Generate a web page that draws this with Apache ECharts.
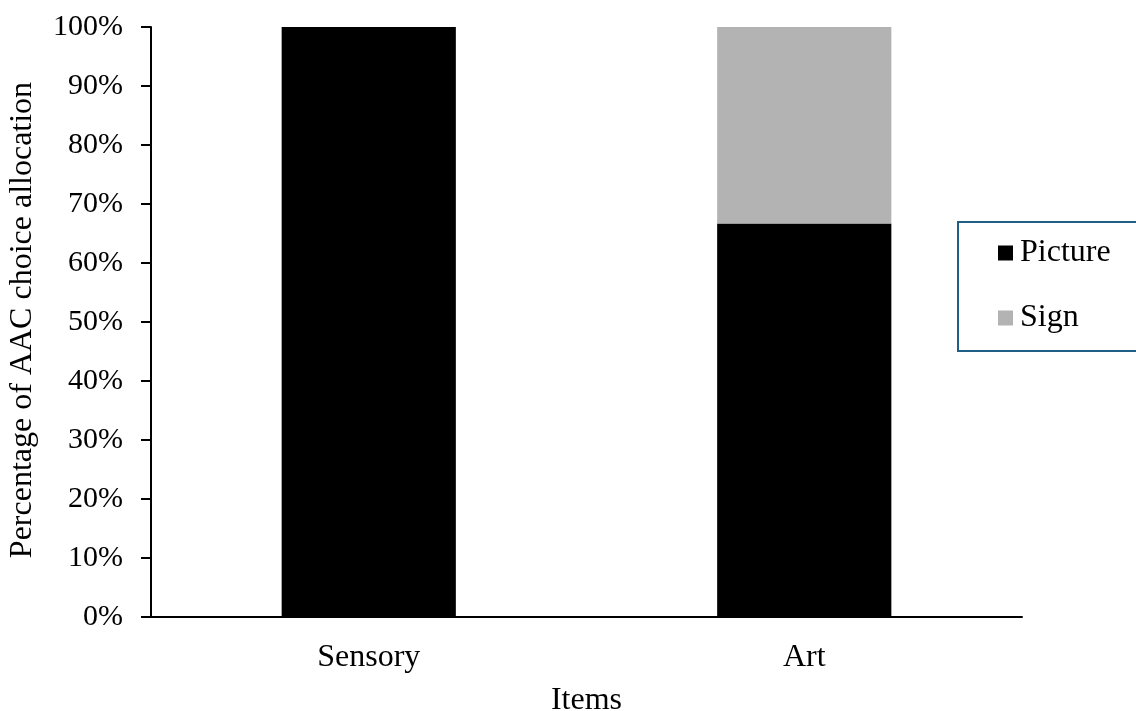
<!DOCTYPE html>
<html>
<head>
<meta charset="utf-8">
<script src="https://cdn.jsdelivr.net/npm/echarts@6/dist/echarts.min.js"></script>
<style>
  html, body { margin: 0; padding: 0; background: #ffffff; }
  #chart { width: 1136px; height: 711px; }
</style>
</head>
<body>
<div id="chart"></div>
<script>
// Items on the horizontal axis
const categories = ['Sensory', 'Art'];
// Share of AAC choices per item (percent)
const pictureValues = [100, 66.7];
const signValues = [0, 33.3];
// Vertical axis range and step (percent)
const yMin = 0;
const yMax = 100;
const yStep = 10;

const FONT = '"Liberation Serif", "Times New Roman", serif';

const chart = echarts.init(document.getElementById('chart'), null, { renderer: 'canvas' });

chart.setOption({
  backgroundColor: '#ffffff',
  animation: false,
  textStyle: { fontFamily: FONT, color: '#000000' },
  grid: { left: 151, right: 114, top: 27, bottom: 94, containLabel: false, outerBoundsMode: 'none' },
  legend: {
    orient: 'vertical',
    left: 958,
    top: 222,
    padding: [15, 80, 17, 40],
    itemGap: 33,
    itemWidth: 15,
    itemHeight: 15,
    icon: 'rect',
    borderColor: '#1f5f86',
    borderWidth: 2,
    textStyle: { fontFamily: FONT, fontSize: 32, color: '#000000', lineHeight: 32, padding: [0, 0, 0, 2] },
    data: ['Picture', 'Sign']
  },
  xAxis: {
    type: 'category',
    data: categories,
    name: 'Items',
    nameLocation: 'middle',
    nameGap: 68,
    nameTextStyle: { fontFamily: FONT, fontSize: 32, color: '#000000' },
    axisLine: { show: true, lineStyle: { color: '#000000', width: 2 } },
    axisTick: { show: false },
    axisLabel: { fontFamily: FONT, fontSize: 32, color: '#000000', margin: 25 },
    splitLine: { show: false }
  },
  yAxis: {
    type: 'value',
    min: yMin,
    max: yMax,
    interval: yStep,
    name: 'Percentage of AAC choice allocation',
    nameLocation: 'middle',
    nameGap: 112,
    nameRotate: 90,
    nameTextStyle: { fontFamily: FONT, fontSize: 32, color: '#000000', padding: [0, 0, 0, 4] },
    axisLine: { show: true, lineStyle: { color: '#000000', width: 2 } },
    axisTick: { show: true, length: 10, inside: false, lineStyle: { color: '#000000', width: 2 } },
    axisLabel: {
      fontFamily: FONT, fontSize: 30, color: '#000000', margin: 28,
      formatter: v => v + '%'
    },
    splitLine: { show: false }
  },
  series: [
    {
      name: 'Picture',
      type: 'bar',
      stack: 'total',
      barWidth: '40%',
      itemStyle: { color: '#000000' },
      data: pictureValues
    },
    {
      name: 'Sign',
      type: 'bar',
      stack: 'total',
      barWidth: '40%',
      itemStyle: { color: '#b3b3b3' },
      data: signValues
    }
  ]
});
</script>
</body>
</html>
